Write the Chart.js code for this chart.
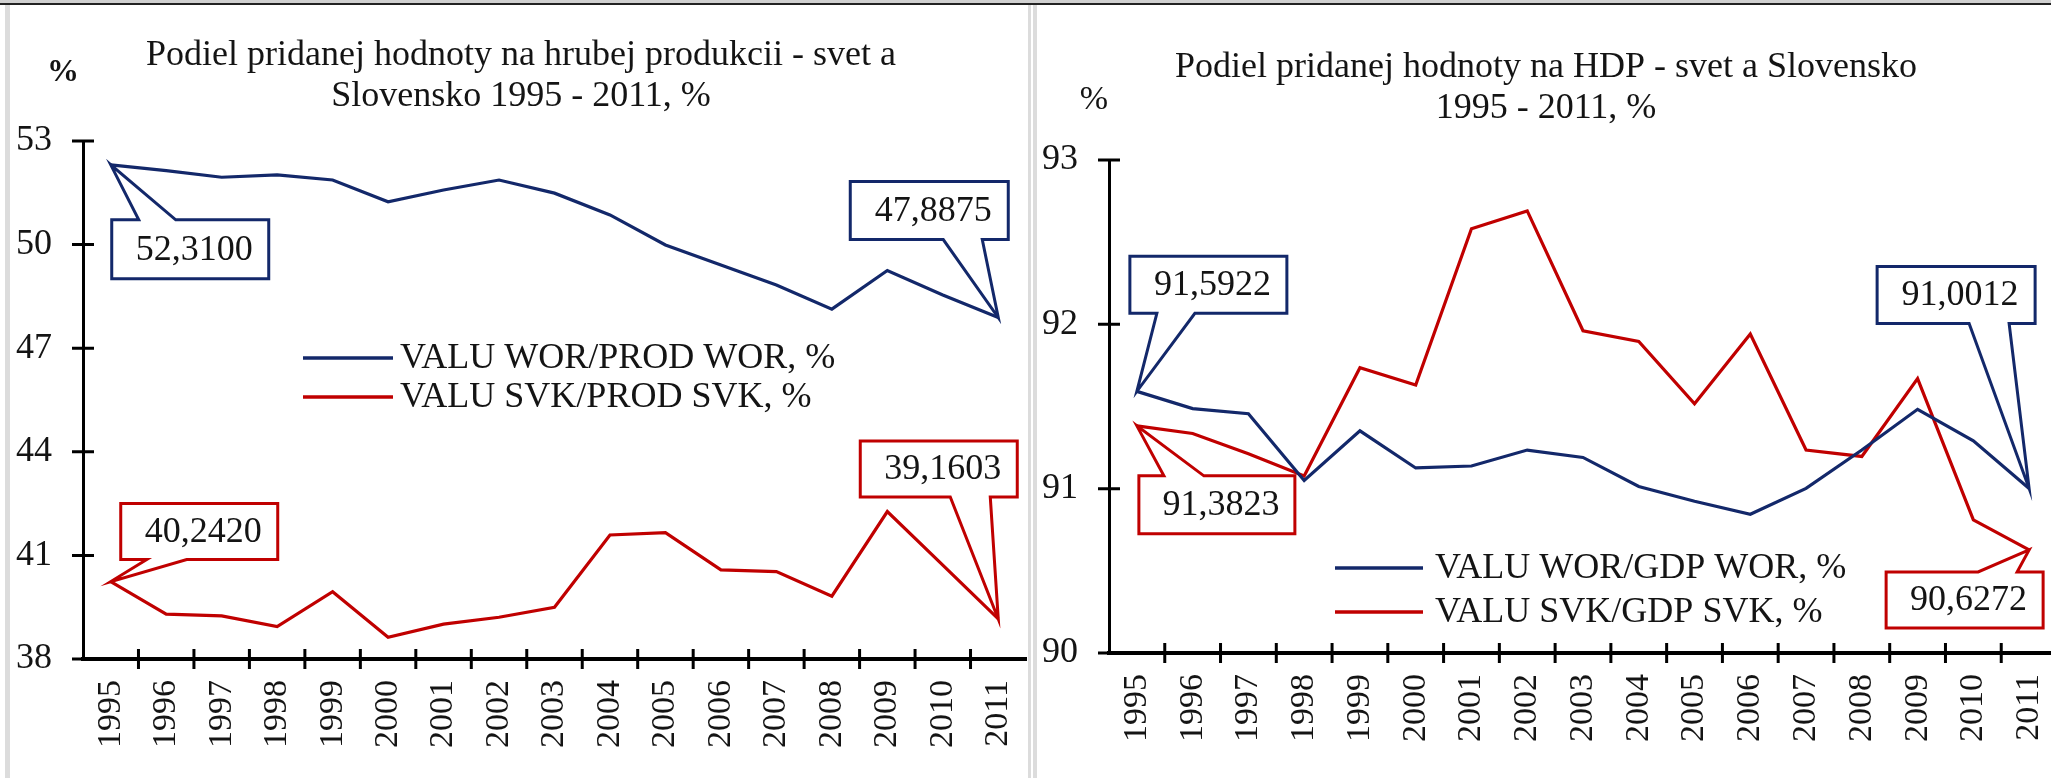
<!DOCTYPE html>
<html>
<head>
<meta charset="utf-8">
<script src="https://cdn.jsdelivr.net/npm/chart.js@4.4.1/dist/chart.umd.min.js"></script>
<style>
  html, body { margin: 0; padding: 0; background: #fff; overflow: hidden; width: 2051px; height: 778px; }
  .panel { position: absolute; top: 0; }
  #left { left: 0; }
  #right { left: 1037px; }
  #strip { position: absolute; left: 0; top: 0; width: 2051px; height: 3px; background: #d0d0d0; border-bottom: 2px solid #222; }
  .sep { position: absolute; top: 5px; height: 773px; background: #dcdcdc; }
</style>
</head>
<body>
<div id="left" class="panel"><canvas id="c1" width="1030" height="778"></canvas></div>
<div id="right" class="panel"><canvas id="c2" width="1022" height="778"></canvas></div>
<div id="strip"></div>
<div class="sep" style="left:5px;width:5px"></div>
<div class="sep" style="left:1028px;width:3px"></div>
<div class="sep" style="left:1033px;width:4px"></div>
<script>
// data
var years = ['1995', '1996', '1997', '1998', '1999', '2000', '2001', '2002', '2003',
             '2004', '2005', '2006', '2007', '2008', '2009', '2010', '2011'];

var prodWor = [52.31, 52.14, 51.95, 52.02, 51.87, 51.24, 51.58, 51.87, 51.49,
               50.86, 49.99, 49.41, 48.83, 48.13, 49.25, 48.54, 47.8875];
var prodSvk = [40.242, 39.30, 39.25, 38.94, 39.95, 38.63, 39.01, 39.21, 39.50,
               41.59, 41.66, 40.58, 40.53, 39.82, 42.27, 40.72, 39.1603];

var gdpWor = [91.5922, 91.487, 91.456, 91.05, 91.352, 91.126, 91.138, 91.235, 91.19,
              91.013, 90.923, 90.844, 91.002, 91.235, 91.483, 91.291, 91.0012];
var gdpSvk = [91.3823, 91.336, 91.212, 91.077, 91.736, 91.63, 92.582, 92.69, 91.961,
              91.896, 91.517, 91.941, 91.235, 91.196, 91.67, 90.81, 90.6272];

var prodTicks = [38, 41, 44, 47, 50, 53];
var gdpTicks = [90, 91, 92, 93];

var prodNames = ['VALU WOR/PROD WOR, %', 'VALU SVK/PROD SVK, %'];
var gdpNames = ['VALU WOR/GDP WOR, %', 'VALU SVK/GDP SVK, %'];

var prodTitle = ['Podiel pridanej hodnoty na hrubej produkcii - svet a', 'Slovensko 1995 - 2011, %'];
var gdpTitle = ['Podiel pridanej hodnoty na HDP - svet a Slovensko', '1995 - 2011, %'];

var SERIF = "'Liberation Serif', 'Times New Roman', serif";
var BLUE = '#13286a';
var RED = '#c00000';
var INK = '#141414';

function fmt(v) {
  return v.toFixed(4).replace('.', ',');
}

// excel style tick marks that cross the axis
var crossTicks = {
  id: 'crossTicks',
  afterDraw: function(chart) {
    var ctx = chart.ctx, a = chart.chartArea, x = chart.scales.x, y = chart.scales.y;
    ctx.save();
    ctx.strokeStyle = '#000';
    ctx.lineWidth = 3;
    ctx.beginPath();
    y.ticks.forEach(function(t) {
      var py = y.getPixelForValue(t.value);
      ctx.moveTo(a.left - 11, py);
      ctx.lineTo(a.left + 11, py);
    });
    for (var i = 1; i < x.ticks.length; i++) {
      var px = x.getPixelForValue(i - 0.5);
      ctx.moveTo(px, a.bottom - 10);
      ctx.lineTo(px, a.bottom + 10);
    }
    ctx.stroke();
    ctx.restore();
  }
};

// title, % sign and legend
var annotate = {
  id: 'annotate',
  afterDraw: function(chart, args, o) {
    var ctx = chart.ctx;
    ctx.save();
    ctx.fillStyle = INK;
    ctx.font = '36px ' + SERIF;
    ctx.textAlign = 'center';
    ctx.textBaseline = 'alphabetic';
    o.title.forEach(function(t, i) { ctx.fillText(t, o.titleX, o.titleY[i]); });

    ctx.font = o.pctFont + ' ' + SERIF;
    ctx.fillText('%', o.pct[0], o.pct[1]);

    ctx.font = '36px ' + SERIF;
    ctx.textAlign = 'left';
    ctx.textBaseline = 'middle';
    chart.data.datasets.forEach(function(ds, i) {
      var ly = o.legendY[i];
      ctx.strokeStyle = ds.borderColor;
      ctx.lineWidth = 3.5;
      ctx.beginPath();
      ctx.moveTo(o.legendX[0], ly);
      ctx.lineTo(o.legendX[1], ly);
      ctx.stroke();
      ctx.fillText(ds.label, o.legendX[2], ly + 1);
    });
    ctx.restore();
  }
};

// boxed value labels with a pointer to the point
var callouts = {
  id: 'callouts',
  afterDatasetsDraw: function(chart, args, o) {
    var ctx = chart.ctx;
    o.items.forEach(function(c) {
      var ds = chart.data.datasets[c.ds];
      var pt = chart.getDatasetMeta(c.ds).data[c.i];
      var px = pt.x, py = pt.y;
      var x0 = px + c.box[0], x1 = px + c.box[1], y0 = py + c.box[2], y1 = py + c.box[3];
      ctx.save();
      ctx.beginPath();
      if (c.side === 'top') {
        ctx.moveTo(x0, y0);
        ctx.lineTo(px + c.base[0], y0);
        ctx.lineTo(px, py);
        ctx.lineTo(px + c.base[1], y0);
        ctx.lineTo(x1, y0);
        ctx.lineTo(x1, y1);
        ctx.lineTo(x0, y1);
      } else {
        ctx.moveTo(x0, y0);
        ctx.lineTo(x1, y0);
        ctx.lineTo(x1, y1);
        ctx.lineTo(px + c.base[1], y1);
        ctx.lineTo(px, py);
        ctx.lineTo(px + c.base[0], y1);
        ctx.lineTo(x0, y1);
      }
      ctx.closePath();
      ctx.fillStyle = '#fff';
      ctx.fill();
      ctx.lineWidth = 3;
      ctx.lineJoin = 'miter';
      ctx.strokeStyle = ds.borderColor;
      ctx.stroke();
      ctx.fillStyle = INK;
      ctx.font = '36px ' + SERIF;
      ctx.textAlign = 'center';
      ctx.textBaseline = 'middle';
      ctx.fillText(fmt(ds.data[c.i]), (x0 + x1) / 2 + 4, (y0 + y1) / 2 + 1);
      ctx.restore();
    });
  }
};

function makeChart(id, series, names, ticks, geom, notes, boxes) {
  return new Chart(document.getElementById(id), {
    type: 'line',
    data: {
      labels: years,
      datasets: [
        { label: names[0], data: series[0], borderColor: BLUE, backgroundColor: BLUE },
        { label: names[1], data: series[1], borderColor: RED, backgroundColor: RED }
      ]
    },
    options: {
      responsive: false,
      animation: false,
      layout: { padding: { top: geom.top, right: geom.right, left: 0, bottom: 0 } },
      elements: {
        point: { radius: 0 },
        line: { borderWidth: 3.2, tension: 0, borderJoinStyle: 'miter' }
      },
      plugins: {
        legend: { display: false },
        tooltip: { enabled: false },
        annotate: notes,
        callouts: { items: boxes }
      },
      scales: {
        x: {
          offset: true,
          grid: { display: false, drawTicks: true, tickLength: 10 },
          border: { display: true, color: '#000', width: 4 },
          ticks: {
            autoSkip: false, minRotation: 90, maxRotation: 90, padding: 11,
            color: INK, font: { family: SERIF, size: 34 }
          },
          afterFit: function(s) { s.height = geom.xh; s.paddingLeft = 0; s.paddingRight = 0; }
        },
        y: {
          min: ticks[0],
          max: ticks[ticks.length - 1],
          grid: { display: false, drawTicks: true, tickLength: 10 },
          border: { display: true, color: '#000', width: 3 },
          ticks: {
            stepSize: ticks[1] - ticks[0], padding: 21,
            color: INK, font: { family: SERIF, size: 36 }
          },
          afterFit: function(s) { s.width = geom.yw; s.paddingTop = 0; s.paddingBottom = 0; }
        }
      }
    },
    plugins: [crossTicks, annotate, callouts]
  });
}

makeChart('c1', [prodWor, prodSvk], prodNames, prodTicks,
  { top: 141, right: 4, xh: 119, yw: 83 },
  { title: prodTitle, titleX: 521, titleY: [65, 106], pct: [63, 81], pctFont: 'bold 32px',
    legendX: [303, 393, 400], legendY: [358, 397] },
  [
    { ds: 0, i: 0, side: 'top', box: [1, 158, 55, 114], base: [28, 65] },
    { ds: 0, i: 16, side: 'bottom', box: [-148, 10, -136, -78], base: [-55, -16] },
    { ds: 1, i: 0, side: 'bottom', box: [10, 167, -78, -22], base: [36, 76] },
    { ds: 1, i: 16, side: 'bottom', box: [-138, 19, -178, -122], base: [-48, -8] }
  ]);

makeChart('c2', [gdpWor, gdpSvk], gdpNames, gdpTicks,
  { top: 160, right: 2, xh: 125, yw: 72 },
  { title: gdpTitle, titleX: 509, titleY: [77, 118], pct: [57, 109], pctFont: '34px',
    legendX: [298, 386, 398], legendY: [568, 612] },
  [
    { ds: 0, i: 0, side: 'bottom', box: [-7, 150, -135, -78], base: [20, 58] },
    { ds: 1, i: 0, side: 'top', box: [2, 158, 50, 108], base: [27, 67] },
    { ds: 0, i: 16, side: 'bottom', box: [-152, 6, -222, -165], base: [-60, -20] },
    { ds: 1, i: 16, side: 'top', box: [-143, 14, 22, 78], base: [-51, -12] }
  ]);
</script>
</body>
</html>
